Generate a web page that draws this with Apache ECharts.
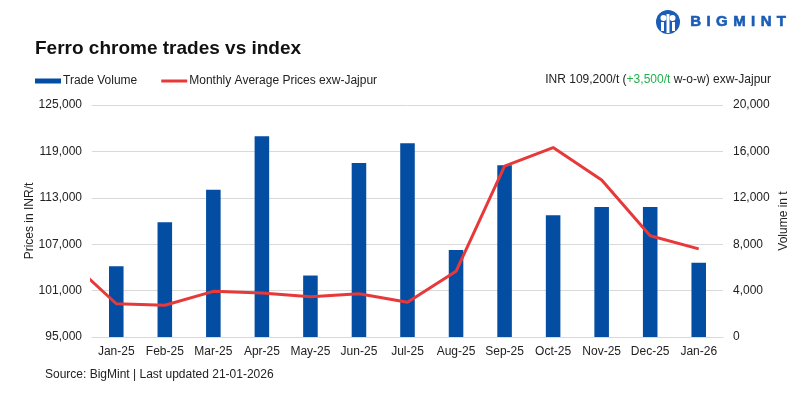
<!DOCTYPE html>
<html>
<head>
<meta charset="utf-8">
<script src="https://cdn.jsdelivr.net/npm/echarts@6/dist/echarts.min.js"></script>
<style>
  html, body { margin: 0; padding: 0; background: #fff; }
  #chart { width: 800px; height: 399px; }
</style>
</head>
<body>
<div id="chart"></div>
<script>
// months on the bar axis
const categories = ['Jan-25', 'Feb-25', 'Mar-25', 'Apr-25', 'May-25', 'Jun-25', 'Jul-25',
  'Aug-25', 'Sep-25', 'Oct-25', 'Nov-25', 'Dec-25', 'Jan-26'];
// trade volume, t (right axis)
const volume = [6100, 9900, 12700, 17300, 5300, 15000, 16700, 7500, 14800, 10500, 11200, 11200, 6400];
// price line starts one month earlier, that point is cut off by the plot edge
const priceMonths = ['Dec-24', 'Jan-25', 'Feb-25', 'Mar-25', 'Apr-25', 'May-25', 'Jun-25', 'Jul-25',
  'Aug-25', 'Sep-25', 'Oct-25', 'Nov-25', 'Dec-25', 'Jan-26'];
const prices = [105100, 99300, 99100, 100900, 100700, 100200, 100600, 99500,
  103500, 117100, 119500, 115300, 108100, 106400];
// axis ticks
const priceTicks = [95000, 101000, 107000, 113000, 119000, 125000];
const volumeTicks = [0, 4000, 8000, 12000, 16000, 20000];

const BLUE = '#034ea2';
const RED = '#e8393a';
const GRID = '#d9d9d9';
const TXT = '#222';
const FONT = '"Liberation Sans", Arial, sans-serif';

const fmt = v => v.toLocaleString('en-US');
const shift = priceMonths.length - categories.length;

// logo letters, spaced out one by one
const logoLetters = 'BIGMINT'.split('');
const logoAdv = { B: 0.722, I: 0.278, G: 0.778, M: 0.833, N: 0.722, T: 0.611 };
let lx = 690;
const logoText = logoLetters.map(ch => {
  const el = {
    type: 'text', left: lx, top: 14,
    style: { text: ch, fill: '#1a5cb6', font: 'bold 15px ' + FONT, stroke: '#1a5cb6', lineWidth: 0.6 }
  };
  lx += logoAdv[ch] * 15 + 5.4;
  return el;
});

const chart = echarts.init(document.getElementById('chart'), null, { renderer: 'canvas' });

chart.setOption({
  animation: false,
  textStyle: { fontFamily: FONT },
  title: {
    text: 'Ferro chrome trades vs index',
    left: 30, top: 34,
    textStyle: { fontSize: 19, fontWeight: 'bold', color: '#111', fontFamily: FONT }
  },
  legend: {
    left: 30, top: 70,
    itemWidth: 26, itemHeight: 5, itemGap: 24,
    textStyle: { fontSize: 12, color: TXT, padding: [0, 0, 0, -3] },
    data: [
      { name: 'Trade Volume', icon: 'rect' },
      { name: 'Monthly Average Prices exw-Jajpur', icon: 'path://M0,0 L26,0 L26,3 L0,3 Z' }
    ]
  },
  grid: { left: 92, right: 77, top: 105, bottom: 62 },
  xAxis: [{
    type: 'category',
    data: categories,
    axisLine: { lineStyle: { color: GRID } },
    axisTick: { length: 4, lineStyle: { color: GRID } },
    axisLabel: { color: TXT, fontSize: 12, margin: 9, interval: 0 }
  }, {
    type: 'value',
    show: false,
    min: -0.5,
    max: categories.length - 0.5
  }],
  yAxis: [{
    type: 'value',
    name: 'Prices in INR/t',
    nameLocation: 'middle',
    nameRotate: 90,
    nameGap: 56,
    nameMoveOverlap: false,
    nameTextStyle: { color: TXT, fontSize: 12 },
    min: priceTicks[0],
    max: priceTicks[priceTicks.length - 1],
    interval: priceTicks[1] - priceTicks[0],
    axisLine: { show: false },
    axisTick: { show: false },
    axisLabel: { color: TXT, fontSize: 12, margin: 10, formatter: fmt },
    splitLine: { lineStyle: { color: GRID } }
  }, {
    type: 'value',
    name: 'Volume in t',
    nameLocation: 'middle',
    nameRotate: 90,
    nameGap: 55,
    nameMoveOverlap: false,
    nameTextStyle: { color: TXT, fontSize: 12 },
    min: volumeTicks[0],
    max: volumeTicks[volumeTicks.length - 1],
    interval: volumeTicks[1] - volumeTicks[0],
    axisLine: { show: false },
    axisTick: { show: false },
    axisLabel: { color: TXT, fontSize: 12, margin: 10, formatter: fmt },
    splitLine: { show: false }
  }],
  series: [{
    name: 'Trade Volume',
    type: 'bar',
    xAxisIndex: 0,
    yAxisIndex: 1,
    barWidth: '30%',
    itemStyle: { color: BLUE },
    data: volume
  }, {
    name: 'Monthly Average Prices exw-Jajpur',
    type: 'line',
    xAxisIndex: 1,
    yAxisIndex: 0,
    symbol: 'none',
    clip: true,
    lineStyle: { color: RED, width: 3 },
    itemStyle: { color: RED },
    data: prices.map((v, i) => [i - shift, v])
  }],
  graphic: [{
    type: 'text',
    right: 29, top: 74,
    style: {
      text: '{a|INR 109,200/t (}{g|+3,500/t}{a| w-o-w) exw-Jajpur}',
      rich: {
        a: { fontSize: 12, fill: TXT, fontFamily: FONT },
        g: { fontSize: 12, fill: '#22b14c', fontFamily: FONT }
      }
    }
  }, {
    type: 'text',
    left: 45, top: 369,
    style: { text: 'Source: BigMint | Last updated 21-01-2026', fill: TXT, font: '12px ' + FONT }
  }, {
    type: 'group',
    left: 656, top: 10,
    children: [
      { type: 'circle', shape: { cx: 12, cy: 12, r: 12 }, style: { fill: '#1a5cb6' } },
      { type: 'circle', shape: { cx: 7.5, cy: 8, r: 3 }, style: { fill: '#fff' } },
      { type: 'circle', shape: { cx: 16.5, cy: 8, r: 3 }, style: { fill: '#fff' } },
      { type: 'rect', shape: { x: 10.5, y: 4, width: 3, height: 19 }, style: { fill: '#fff' } },
      { type: 'rect', shape: { x: 5, y: 12, width: 3, height: 9 }, style: { fill: '#fff' } },
      { type: 'rect', shape: { x: 16, y: 12, width: 3, height: 9 }, style: { fill: '#fff' } }
    ]
  }].concat(logoText)
});
</script>
</body>
</html>
